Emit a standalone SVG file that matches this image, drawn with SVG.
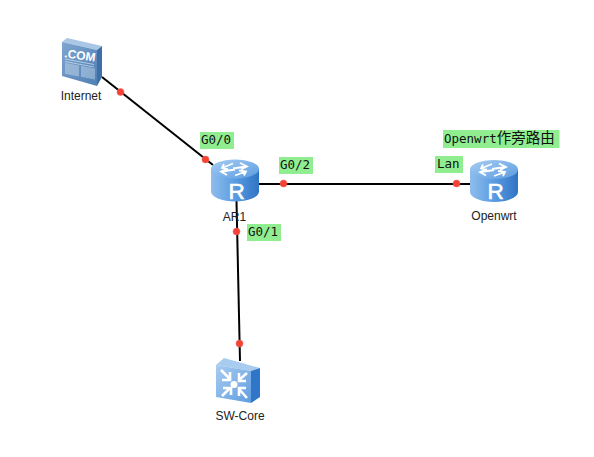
<svg xmlns="http://www.w3.org/2000/svg" width="594" height="457" viewBox="0 0 594 457">
<style>
.lnk{stroke:#000;stroke-width:2;fill:none}
.dot{fill:#f44336;stroke:#f7645a;stroke-width:.5}
.tag{fill:#90ee90}
.port{font:12.500px "DejaVu Sans Mono","Liberation Mono",monospace;fill:#111}
.name{font:12px "Liberation Sans",Arial,sans-serif;fill:#222;text-anchor:middle}
.rlet{font:22.500px "Liberation Sans",Arial,sans-serif;fill:#fff;stroke:#fff;stroke-width:.6;text-anchor:middle}
.wa{fill:none;stroke:#fff;stroke-width:2.600}
</style>
<defs>
<linearGradient id="rb" x1="0" x2="1" y1="0" y2="0"><stop offset="0" stop-color="#8fbdec"/><stop offset=".5" stop-color="#5a9ce2"/><stop offset="1" stop-color="#2f74c4"/></linearGradient>
<linearGradient id="rt" x1="0" x2="1" y1="0" y2="1"><stop offset="0" stop-color="#a6cdf2"/><stop offset="1" stop-color="#5c9ce0"/></linearGradient>
<linearGradient id="sf" x1="0" x2="1" y1="0" y2="1"><stop offset="0" stop-color="#a9ccf1"/><stop offset="1" stop-color="#5f9de0"/></linearGradient>
<linearGradient id="cf" x1="0" x2="1" y1="0" y2="1"><stop offset="0" stop-color="#7fa6cf"/><stop offset="1" stop-color="#4f7fb4"/></linearGradient>
<g id="router">
<path d="M0 9.500V32A24 10 0 0 0 48 32V9.500Z" fill="url(#rb)"/>
<ellipse cx="24" cy="9.500" rx="24" ry="9.500" fill="url(#rt)"/>
<path d="M22 4L11 8.500M17 10L11 8.500 13 4.500M22 9L35 7M29 3.500L36 7 30 10M24 10L11 12M17 9L10 12 16 15.500M24 16L35 12M28 11L35 12 33 16" fill="none" stroke="#fff" stroke-width="1.800"/>
</g>
</defs>
<g id="connectors">
<path class="lnk" d="M102 77L213 165"/>
<path class="lnk" d="M258 184H470"/>
<path class="lnk" d="M236.500 201L240 361"/>
<circle class="dot" cx="120.500" cy="92" r="3.500"/>
<circle class="dot" cx="205.500" cy="159.500" r="3.500"/>
<circle class="dot" cx="283.500" cy="183.500" r="3.500"/>
<circle class="dot" cx="456.500" cy="183.500" r="3.500"/>
<circle class="dot" cx="236.500" cy="231.500" r="3.500"/>
<circle class="dot" cx="239.500" cy="343.500" r="3.500"/>
</g>
<g id="internet">
<path d="M62 42L67 38 102 46 97 50Z" fill="#a9c6e4"/>
<path d="M97 50L102 46V77L97 86Z" fill="#3f6fa6"/>
<path d="M62 42L97 50V86L62 76Z" fill="url(#cf)"/>
<text x="79.500" y="59.500" font-family="Liberation Sans,Arial,sans-serif" font-size="12" font-weight="bold" fill="#fff" text-anchor="middle" transform="rotate(8 79.500 59.500)">.COM</text>
<path d="M65 59L94 64.500M65 61.500L94 67" stroke="#d4e2f0" stroke-width=".7"/>
<path d="M66 63v11M68 63.400v11M70 63.800v11M72 64.200v11M74 64.600v11M76 65v11M78 65.400v11M82 66v11M84 66.400v11M86 66.800v11M88 67.200v11M90 67.600v11M92 68v11M94 68.400v11" stroke="#dbe7f3" stroke-width=".8"/>
<text class="name" x="81" y="100">Internet</text>
</g>
<g id="ar1">
<use href="#router" x="211" y="159.500"/>
<text class="rlet" x="236.500" y="198.500">R</text>
<text class="name" x="234.500" y="221">AR1</text>
</g>
<g id="openwrt">
<use href="#router" x="470" y="160"/>
<text class="rlet" x="495.500" y="199">R</text>
<text class="name" x="494" y="220">Openwrt</text>
</g>
<g id="sw-core">
<path d="M216 365L224 358 260 368 251 371Z" fill="#a8cbf0"/>
<path d="M251 371L260 368V397L251 403Z" fill="#2f76c8"/>
<path d="M216 365L251 371V403L216 397Z" fill="url(#sf)"/>
<circle cx="234" cy="384.500" r="3.500" fill="#fff"/>
<path class="wa" d="M221 370L230 379M230 372V380H222M247 373L239 380M239 373V381H246M222 396L230 388M223 388H231V395M247 398L239 389M239 396V388H246"/>
<text class="name" x="240" y="420">SW-Core</text>
</g>
<g id="labels">
<rect class="tag" x="200" y="132" width="34" height="17"/><text class="port" x="201" y="143.500">G0/0</text>
<rect class="tag" x="279" y="157" width="34" height="17"/><text class="port" x="280" y="168.500">G0/2</text>
<rect class="tag" x="247" y="224" width="34" height="17"/><text class="port" x="248" y="235.500">G0/1</text>
<rect class="tag" x="435" y="156" width="28" height="17"/><text class="port" x="437" y="167.500">Lan</text>
<rect class="tag" x="443" y="130" width="116.500" height="18"/><text class="port" x="444" y="142.500">Openwrt<tspan font-family="Noto Sans CJK SC,sans-serif" font-size="14.500">作旁路由</tspan></text>
</g>
</svg>
